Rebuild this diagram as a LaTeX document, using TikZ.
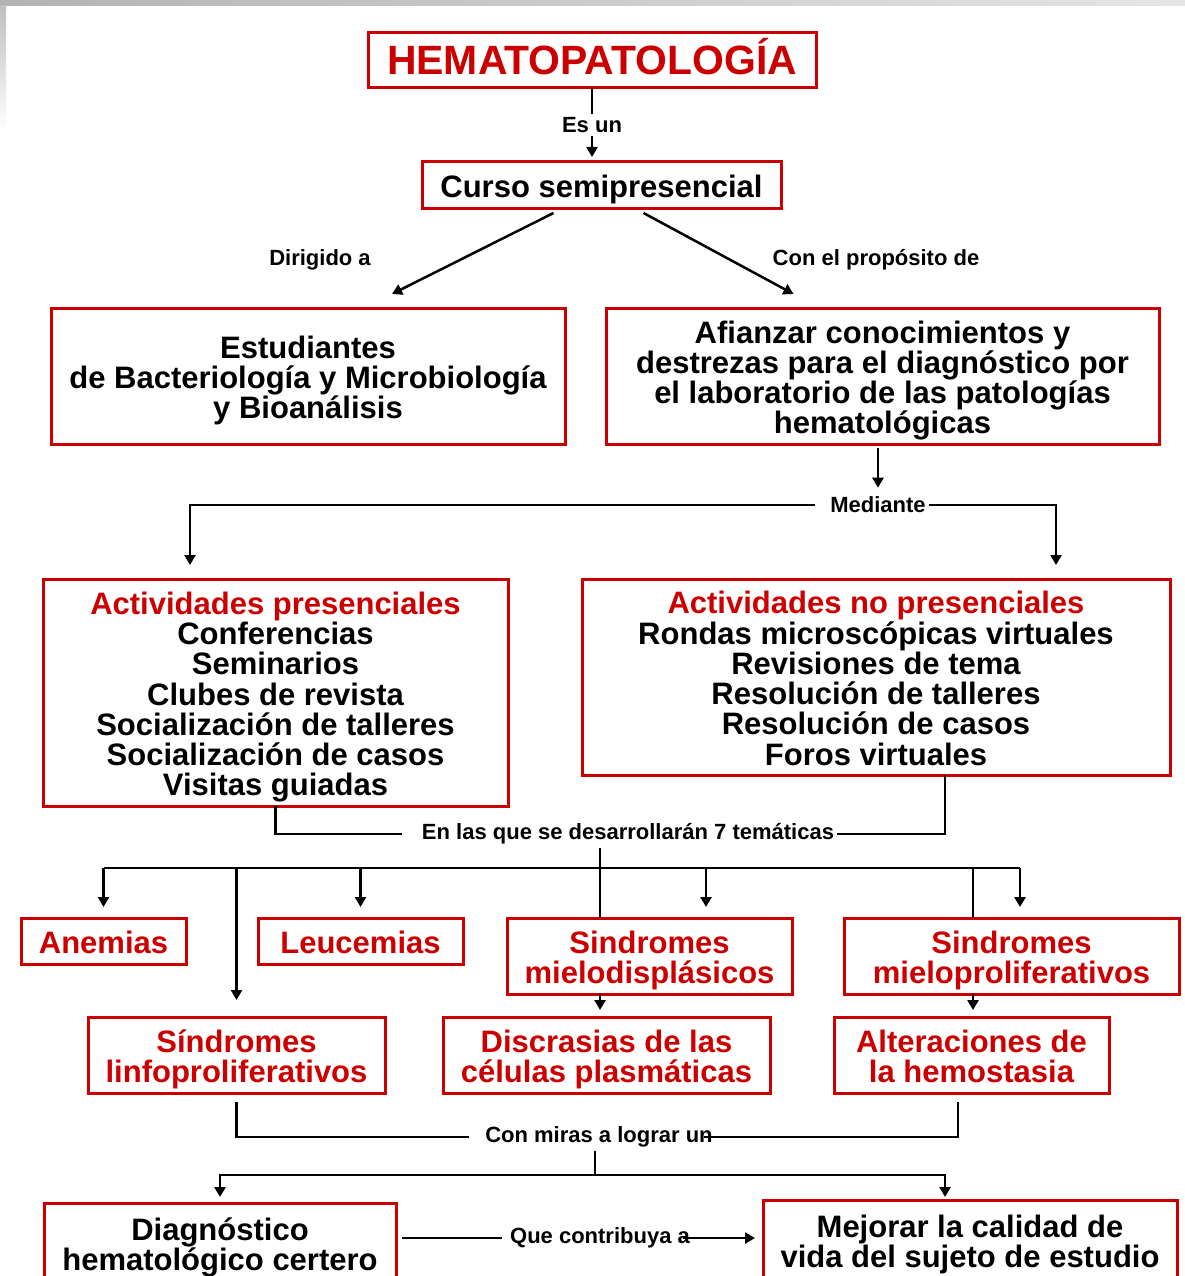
\documentclass[tikz,border=0pt]{standalone}
\usepackage{fontspec}
\setmainfont{Liberation Sans}
\usepackage{tikz}
\usetikzlibrary{arrows.meta, positioning, calc}
\definecolor{hemared}{HTML}{CC0000}
\newcommand{\firstrow}{\rule{0pt}{31.6pt}}

\begin{document}
\begin{tikzpicture}[x=1pt, y=-1pt,
    redbox/.style={rectangle, draw=hemared, line width=3pt, align=center,
                   inner sep=0pt, outer sep=0pt,
                   execute at end node={\rule[-6.6pt]{0pt}{0pt}},
                   font=\fontsize{31}{30.3}\selectfont\bfseries},
    topic/.style={redbox, text=hemared},
    lbl/.style={inner sep=3pt, font=\fontsize{22}{22}\selectfont\bfseries},
    link/.style={line width=2.5pt},
    arrow/.style={link, -{Triangle[length=10pt, width=11pt]}}
  ]
    \useasboundingbox (0,0) rectangle (1185,1276);
    % Slide frame
    \shade[left color=gray!60, right color=gray!20] (0,0) rectangle (1185,6);
    \shade[top color=gray!50, bottom color=white] (0,6) rectangle (6,130);

    % Boxes
    \node[topic, font=\fontsize{40.9}{41}\selectfont\bfseries,
          execute at end node={}, text height=29pt, text depth=0pt,
          minimum width=448pt, minimum height=55pt] (title) at (592,60.5) {HEMATOPATOLOGÍA};
    \node[redbox, minimum width=359pt, minimum height=46pt] (curso) at (601.5,185) {\firstrow Curso semipresencial};
    \node[redbox, minimum width=514pt, minimum height=136pt] (estud) at (308,376)
      {\firstrow Estudiantes\\ de Bacteriología y Microbiología\\ y Bioanálisis};
    \node[redbox, minimum width=553pt, minimum height=136pt] (afianzar) at (882.5,376)
      {\firstrow Afianzar conocimientos y\\ destrezas para el diagnóstico por\\ el laboratorio de las patologías\\ hematológicas};
    \node[redbox, minimum width=465pt, minimum height=227pt] (presencial) at (275.5,692.5)
      {\firstrow\textcolor{hemared}{Actividades presenciales}\\ Conferencias\\ Seminarios\\ Clubes de revista\\
       Socialización de talleres\\ Socialización de casos\\ Visitas guiadas};
    \node[redbox, minimum width=588pt, minimum height=196pt] (nopres) at (876,677)
      {\firstrow\textcolor{hemared}{Actividades no presenciales}\\ Rondas microscópicas virtuales\\ Revisiones de tema\\
       Resolución de talleres\\ Resolución de casos\\ Foros virtuales};

    % Topics
    \node[topic, minimum width=165pt, minimum height=46pt] (anemias) at (103.5,941) {\firstrow Anemias};
    \node[topic, minimum width=205pt, minimum height=46pt] (leucemias) at (360.5,941) {\firstrow Leucemias};
    \node[topic, minimum width=285pt, minimum height=76pt] (mielodis) at (649.5,956) {\firstrow Sindromes\\ mielodisplásicos};
    \node[topic, minimum width=335pt, minimum height=76pt] (mieloprol) at (1011.5,956) {\firstrow Sindromes\\ mieloproliferativos};
    \node[topic, minimum width=297pt, minimum height=76pt] (linfo) at (236.5,1055) {\firstrow Síndromes\\ linfoproliferativos};
    \node[topic, minimum width=327pt, minimum height=76pt] (discrasias) at (606.5,1055) {\firstrow Discrasias de las\\ células plasmáticas};
    \node[topic, minimum width=275pt, minimum height=76pt] (alteraciones) at (971.5,1055) {\firstrow Alteraciones de\\ la hemostasia};

    % Goals
    \node[redbox, minimum width=352pt, minimum height=80pt] (diag) at (220,1243) {\firstrow Diagnóstico\\ hematológico certero};
    \node[redbox, minimum width=414pt, minimum height=80pt] (mejorar) at (970,1240) {\firstrow Mejorar la calidad de\\ vida del sujeto de estudio};

    % Labels
    \node[lbl] (esun) at (592,125) {Es un};
    \node[lbl] (dirigido) at (320,260) {Dirigido a};
    \node[lbl] (proposito) at (876,260) {Con el propósito de};
    \node[lbl] (mediante) at (878,505) {Mediante};
    \node[lbl] (temas) at (628,834) {En las que se desarrollarán 7 temáticas};
    \node[lbl] (miras) at (599,1137) {Con miras a lograr un};
    \node[lbl] (contrib) at (600,1238) {Que contribuya a};

    % Arrows
    \draw[link] (title) -- (esun);
    \draw[arrow, shorten >=5pt] (esun) -- (esun |- curso.north);
    \draw[arrow] ([xshift=-48pt, yshift=-5pt]curso.south) -- ([xshift=84pt, yshift=14pt]estud.north);
    \draw[arrow] ([xshift=42pt, yshift=-5pt]curso.south) -- ([xshift=-89pt, yshift=14pt]afianzar.north);
    \draw[arrow, shorten <=4pt, shorten >=6pt] (afianzar.south -| mediante) -- (mediante);
    \draw[arrow, shorten <=12pt, shorten >=14pt] (mediante.west) -| ([xshift=-85.5pt]presencial.north);
    \draw[arrow, shorten >=14pt] (mediante.east) -| ([xshift=180pt]nopres.north);
    \draw[link, shorten >=17pt] (presencial.south) |- (temas.west);
    \draw[link] ([xshift=69pt]nopres.south) |- (temas.east);

    % Topic branches
    \coordinate (bus) at (600,868);
    \coordinate (busM) at (706,868);
    \coordinate (busP) at (973,868);
    \coordinate (busR) at (1020,868);
    \draw[link] (bus -| anemias) -- (busR);
    \draw[link] (temas.south -| bus) -- (bus |- mielodis.north);
    \draw[link] (busP) -- (busP |- mieloprol.north);
    \draw[arrow, shorten >=11pt] (bus -| anemias) -- (anemias);
    \draw[arrow, shorten >=11pt] (bus -| leucemias) -- (leucemias);
    \draw[arrow, shorten >=17pt] (bus -| linfo) -- (linfo);
    \draw[arrow, shorten >=11pt] (busM) -- (busM |- mielodis.north);
    \draw[arrow, shorten >=11pt] (busR) -- (busR |- mieloprol.north);
    \draw[arrow, shorten >=7pt] (bus |- mielodis.south) -- (bus |- discrasias.north);
    \draw[arrow, shorten >=7pt] (busP |- mieloprol.south) -- (busP |- alteraciones.north);

    % Goal branches
    \draw[link, shorten <=9pt, shorten >=13pt] (linfo.south) |- (miras.west);
    \draw[link, shorten <=9pt, shorten >=-12pt] ([xshift=-13.5pt]alteraciones.south) |- (miras.east);
    \coordinate (bus2) at (595,1175);
    \draw[link] (miras.south -| bus2) -- (bus2);
    \draw[arrow, shorten >=6pt] (bus2) -| (diag.north);
    \draw[arrow, shorten >=3pt] (bus2) -| ([xshift=-25pt]mejorar.north);
    \draw[link, shorten <=6pt, shorten >=5pt] (diag.east |- contrib) -- (contrib.west);
    \draw[arrow, shorten <=-10pt, shorten >=8pt] (contrib.east) -- (mejorar.west |- contrib);
  \end{tikzpicture}
\end{document}
